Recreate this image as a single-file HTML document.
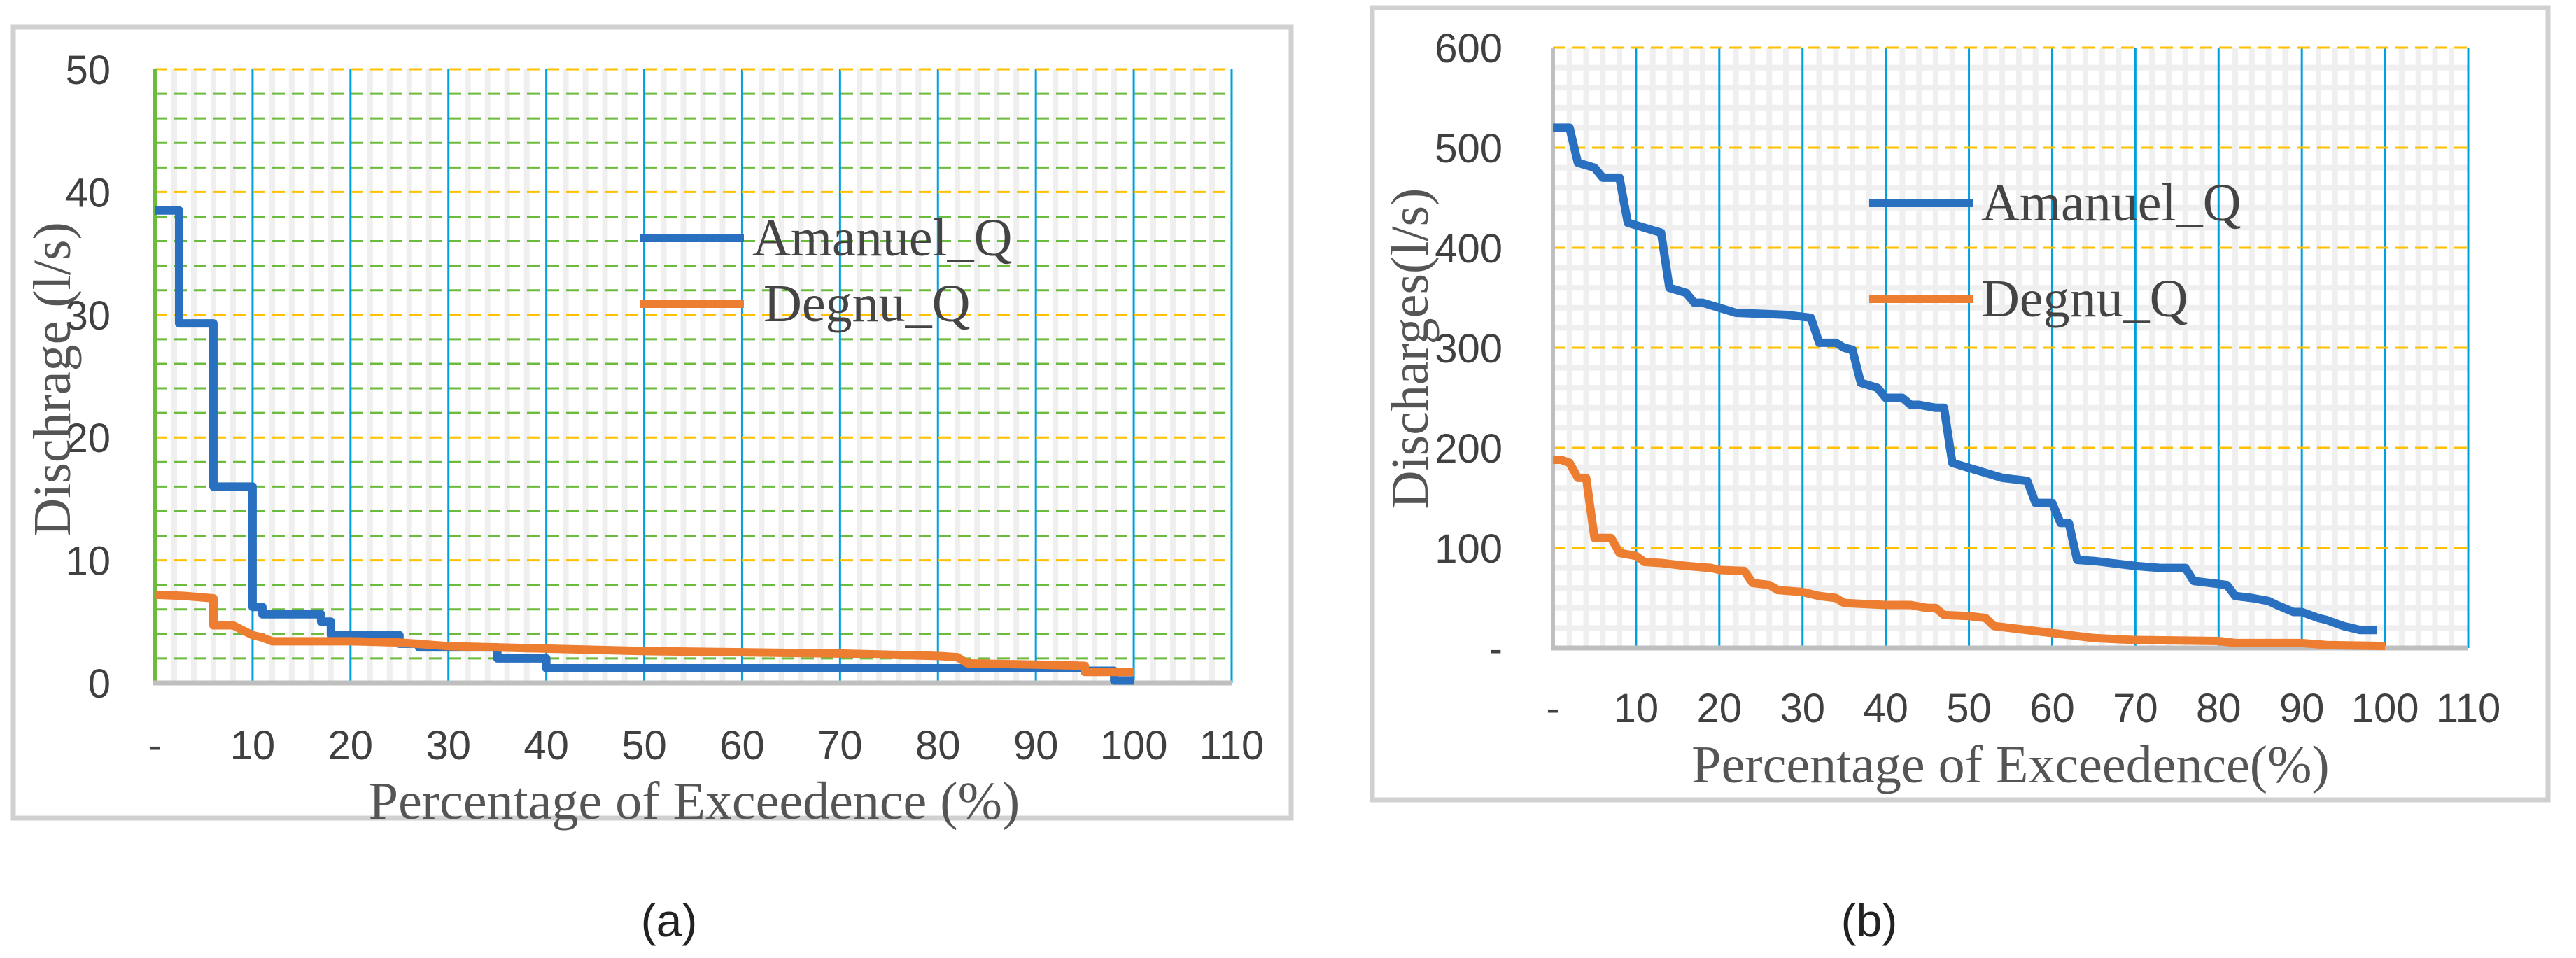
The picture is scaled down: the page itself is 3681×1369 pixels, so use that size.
<!DOCTYPE html>
<html><head><meta charset="utf-8"><style>
html,body{margin:0;padding:0;background:#fff;}
svg{display:block;}
text{font-family:"Liberation Sans",sans-serif;}
.serif{font-family:"Liberation Serif",serif;}
</style></head><body>
<svg id="svg" width="3681" height="1369" viewBox="0 0 3681 1369" xmlns="http://www.w3.org/2000/svg">
<rect x="19" y="39" width="1826" height="1130" fill="#fff" stroke="#d0d0d0" stroke-width="7"/>
<rect x="1961" y="11" width="1680" height="1132" fill="#fff" stroke="#d0d0d0" stroke-width="7"/>
<g id="ga"></g>
<g id="gb"></g>
<text x="956" y="1338" font-size="66" text-anchor="middle" fill="#222">(a)</text>
<text x="2671" y="1338" font-size="66" text-anchor="middle" fill="#222">(b)</text>
</svg>
<script>
// Chart (a) data
const aAmanX = [0,2.5,2.5,6,6,10,10,11,11,17,17,18,18,25,25,27,27,35,35,40,40,95,95,98,98,100];
const aAmanY = [38.5,38.5,29.3,29.3,16,16,6.2,6.2,5.6,5.6,5,5,3.9,3.9,3.2,3.2,2.9,2.9,2,2,1.2,1.2,1.0,1.0,0.2,0.2];
const aDegX = [0,3,6,6,8,9,10,11,12,20,25,30,40,50,60,70,80,82,83,90,95,95,100];
const aDegY = [7.2,7.1,6.9,4.7,4.7,4.3,3.9,3.7,3.4,3.4,3.3,3.0,2.8,2.6,2.5,2.4,2.2,2.1,1.6,1.5,1.4,0.9,0.9];
const aYTicks = [0,10,20,30,40,50];
const aXTicks = [0,10,20,30,40,50,60,70,80,90,100,110];
const aXLabels = ["-","10","20","30","40","50","60","70","80","90","100","110"];
// Chart (b) data
const bAmanX = [0,2,3,5,6,8,9,11,13,14,16,17,18,20,22,28,31,32,34,35,36,37,39,40,42,43,44,46,47,48,50,52,54,56,57,58,60,61,62,63,65,67,70,73,76,77,79,81,82,84,86,87,89,90,92,93,95,97,99];
const bAmanY = [520,520,485,480,470,470,425,420,415,360,355,345,345,340,335,333,330,305,305,300,298,265,260,250,250,243,243,240,240,185,180,175,170,168,167,145,145,125,125,88,87,85,82,80,80,67,65,63,52,50,47,43,36,36,30,28,22,18,18];
const bDegX = [0,1,2,3,4,5,7,8,10,11,13,16,19,20,23,24,26,27,30,32,34,35,40,43,45,46,47,50,52,53,55,57,60,62,65,70,80,82,90,93,100];
const bDegY = [188,188,185,170,170,110,110,95,92,86,85,82,80,78,77,65,63,58,56,52,50,45,43,43,40,40,33,32,30,22,20,18,15,13,10,8,7,5,5,3,2];
const bYTicks = [0,100,200,300,400,500,600];
const bYLabels = ["-","100","200","300","400","500","600"];
const bXTicks = [0,10,20,30,40,50,60,70,80,90,100,110];
const bXLabels = ["-","10","20","30","40","50","60","70","80","90","100","110"];

const NS="http://www.w3.org/2000/svg";
function mk(parent,tag,attrs,txt){const e=document.createElementNS(NS,tag);for(const k in attrs)e.setAttribute(k,attrs[k]);if(txt!==undefined)e.textContent=txt;parent.appendChild(e);return e;}

function chart(g,cfg){
  const sx=v=>cfg.x0+(v/110)*(cfg.x1-cfg.x0);
  const sy=v=>cfg.y0-(v/cfg.ymax)*(cfg.y0-cfg.y1);
  for(let v=2;v<110;v+=2){ if(v%10===0)continue;
    const l=mk(g,'line',{x1:sx(v),x2:sx(v),y1:sy(cfg.ymax),y2:sy(0),stroke:'#efefef','stroke-width':8});
    
    
  }
  if(cfg.minorYBand){
    for(let v=cfg.minorY;v<cfg.ymax;v+=cfg.minorY){ if(v%cfg.majorY===0)continue;
      const l=mk(g,'line',{x1:sx(0),x2:sx(110),y1:sy(v),y2:sy(v),stroke:'#efefef','stroke-width':8});
      
      
    }
  } else {
    for(let v=cfg.minorY;v<cfg.ymax;v+=cfg.minorY){ if(v%cfg.majorY===0)continue;
      const l=mk(g,'line',{x1:sx(0),x2:sx(110),y1:sy(v),y2:sy(v),stroke:'#6cbb3c','stroke-width':3,'stroke-dasharray':'18 10'});
      
      
    }
  }
  for(let i=1;i<cfg.xt.length;i++){
    const l=mk(g,'line',{x1:sx(cfg.xt[i]),x2:sx(cfg.xt[i]),y1:sy(cfg.ymax),y2:sy(0),stroke:'#00a0e0','stroke-width':3});
    
    
  }
  for(let i=1;i<cfg.yt.length;i++){
    const l=mk(g,'line',{x1:sx(0),x2:sx(110),y1:sy(cfg.yt[i]),y2:sy(cfg.yt[i]),stroke:'#ffc000','stroke-width':3,'stroke-dasharray':'18 10'});
    
    
  }
  const ya=mk(g,'line',{x1:sx(0),x2:sx(0),y1:sy(cfg.ymax),y2:sy(0),stroke:cfg.yAxisColor,'stroke-width':6});
  
  
  const xa=mk(g,'line',{x1:sx(0)-3,x2:sx(110),y1:sy(0),y2:sy(0),stroke:'#bfbfbf','stroke-width':7});
  
  
  cfg.yt.forEach((v,i)=>{
    const t=mk(g,'text',{x:cfg.ylx,y:sy(v)+21,'font-size':58,fill:'#404040','text-anchor':'end'},cfg.yl[i]);
    
    
  });
  cfg.xt.forEach((v,i)=>{
    const t=mk(g,'text',{x:sx(v),y:cfg.xly,'font-size':58,fill:'#404040','text-anchor':'middle'},cfg.xl[i]);
    
    
  });
  const series=[[cfg.ax,cfg.ay,'#2a70c0','amanuel-q-line'],[cfg.dx,cfg.dy,'#ed7d31','degnu-q-line']];
  series.forEach(s=>{
    const pts=s[0].map((x,i)=>sx(x)+','+sy(s[1][i])).join(' ');
    const p=mk(g,'polyline',{points:pts,fill:'none',stroke:s[2],'stroke-width':12,'stroke-linejoin':'round'});
    
    
  });
  const xt=mk(g,'text',{x:cfg.xtx,y:cfg.xty,'font-size':76,fill:'#555','text-anchor':'middle',class:'serif'},cfg.xtitle);
  
  
  const yt=mk(g,'text',{x:0,y:0,'font-size':76,fill:'#555','text-anchor':'middle',class:'serif',transform:`translate(${cfg.ytx},${cfg.yty}) rotate(-90)`},cfg.ytitle);
  
  
  const L=cfg.leg;
  const l1=mk(g,'line',{x1:L.x,x2:L.x+148,y1:L.y1,y2:L.y1,stroke:'#2a70c0','stroke-width':12});
  
  
  const t1=mk(g,'text',{x:L.x+160,y:L.y1+25,'font-size':76,fill:'#444',class:'serif'},'Amanuel_Q');
  
  
  const l2=mk(g,'line',{x1:L.x,x2:L.x+148,y1:L.y2,y2:L.y2,stroke:'#ed7d31','stroke-width':12});
  
  
  const t2=mk(g,'text',{x:L.x+L.dOff,y:L.y2+25,'font-size':76,fill:'#444',class:'serif'},'Degnu_Q');
  
  
}
chart(document.getElementById('ga'),{x0:221,x1:1760,y0:976,y1:99,ymax:50,minorY:2,majorY:10,minorYBand:false,yAxisColor:'#6cbb3c',
  yt:aYTicks,yl:aYTicks.map(String),xt:aXTicks,xl:aXLabels,ylx:158,xly:1085,
  ax:aAmanX,ay:aAmanY,dx:aDegX,dy:aDegY,xtitle:'Percentage of Exceedence (%)',xtx:992,xty:1170,
  ytitle:'Dischrage (l/s)',ytx:100,yty:542,leg:{x:915,y1:340,y2:434,dOff:176}});
chart(document.getElementById('gb'),{x0:2219,x1:3527,y0:926,y1:68,ymax:600,minorY:20,majorY:100,minorYBand:true,yAxisColor:'#bfbfbf',
  yt:bYTicks,yl:bYLabels,xt:bXTicks,xl:bXLabels,ylx:2147,xly:1032,
  ax:bAmanX,ay:bAmanY,dx:bDegX,dy:bDegY,xtitle:'Percentage of Exceedence(%)',xtx:2873,xty:1118,
  ytitle:'Discharges(l/s)',ytx:2040,yty:498,leg:{x:2671,y1:290,y2:427,dOff:160}});
</script>
</body></html>
